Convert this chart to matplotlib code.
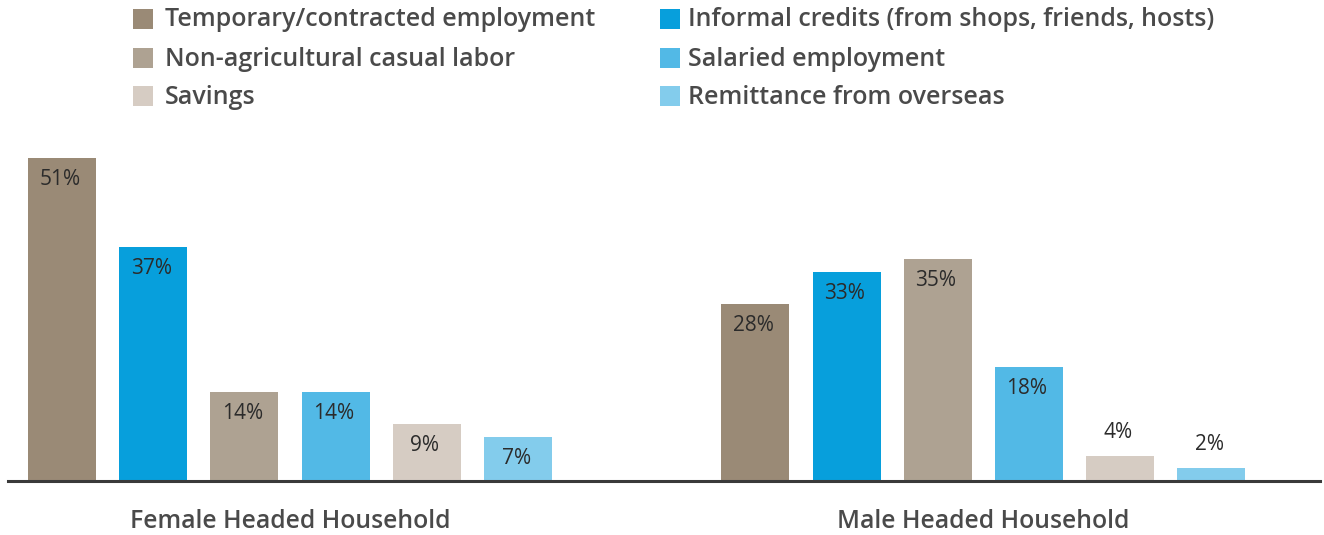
import matplotlib
matplotlib.use("Agg")
import matplotlib.pyplot as plt
from matplotlib.patches import Rectangle

plt.rcParams['font.family'] = ['Open Sans', 'DejaVu Sans']

groups = ["Female Headed Household", "Male Headed Household"]
categories = ["Temporary/contracted employment", "Informal credits (from shops, friends, hosts)",
              "Non-agricultural casual labor", "Salaried employment", "Savings",
              "Remittance from overseas"]
female = [51, 37, 14, 14, 9, 7]
male = [28, 33, 35, 18, 4, 2]
colors = ["#9a8a76", "#079fdc", "#aea292", "#52b9e6", "#d6ccc3", "#83ccec"]
label_inside = [[True] * 6, [True, True, True, True, False, False]]

W, H = 1324, 535
fig = plt.figure(figsize=(W / 100, H / 100), dpi=100)
ax = fig.add_axes([8 / W, 54 / H, (1320 - 8) / W, (481 - 158) / H])

group_offset = 7.6
width = 0.746
data = [female, male]
for j, cat in enumerate(categories):
    xs = [g * group_offset + j for g in range(2)]
    vals = [data[g][j] for g in range(2)]
    bars = ax.bar(xs, vals, width=width, color=colors[j], label=cat, zorder=2)
    for g, b in enumerate(bars):
        v = vals[g]
        if label_inside[g][j]:
            ax.annotate(f"{v}%", (b.get_x() + b.get_width() / 2, v), xytext=(-2, -11),
                        textcoords="offset pixels", ha="center", va="top",
                        fontsize=15, color="#2b2b2b")
        else:
            ax.annotate(f"{v}%", (b.get_x() + b.get_width() / 2, v), xytext=(-2, 13),
                        textcoords="offset pixels", ha="center", va="bottom",
                        fontsize=15, color="#2b2b2b")

ax.set_xlim(-0.592, 13.79)
ax.set_ylim(0, 51)
for s in ["top", "right", "left"]:
    ax.spines[s].set_visible(False)
ax.spines["bottom"].set_color("#3a3a3a")
ax.spines["bottom"].set_linewidth(2.2)
ax.spines["bottom"].set_zorder(3)
ax.set_yticks([])
ax.set_xticks([g * group_offset + 2.5 for g in range(2)])
ax.set_xticklabels(groups, fontsize=17.8, fontweight="semibold", color="#4a4a4a")
ax.tick_params(axis="x", length=0, pad=20)

# legend (two columns)
order = [[0, 2, 4], [1, 3, 5]]
col_sq_x = [133, 660]
col_txt_x = [165, 688]
row_y = [19, 58, 96]
sq = 20
for c, idxs in enumerate(order):
    for r, j in enumerate(idxs):
        fig.add_artist(Rectangle((col_sq_x[c] / W, 1 - (row_y[r] + sq / 2) / H), sq / W, sq / H,
                                 transform=fig.transFigure, color=colors[j], lw=0))
        fig.text(col_txt_x[c] / W, 1 - (row_y[r] + 1) / H, categories[j],
                 fontsize=18, fontweight="semibold", color="#4a4a4a", va="center", ha="left")

fig.savefig("out.png", dpi=100)
